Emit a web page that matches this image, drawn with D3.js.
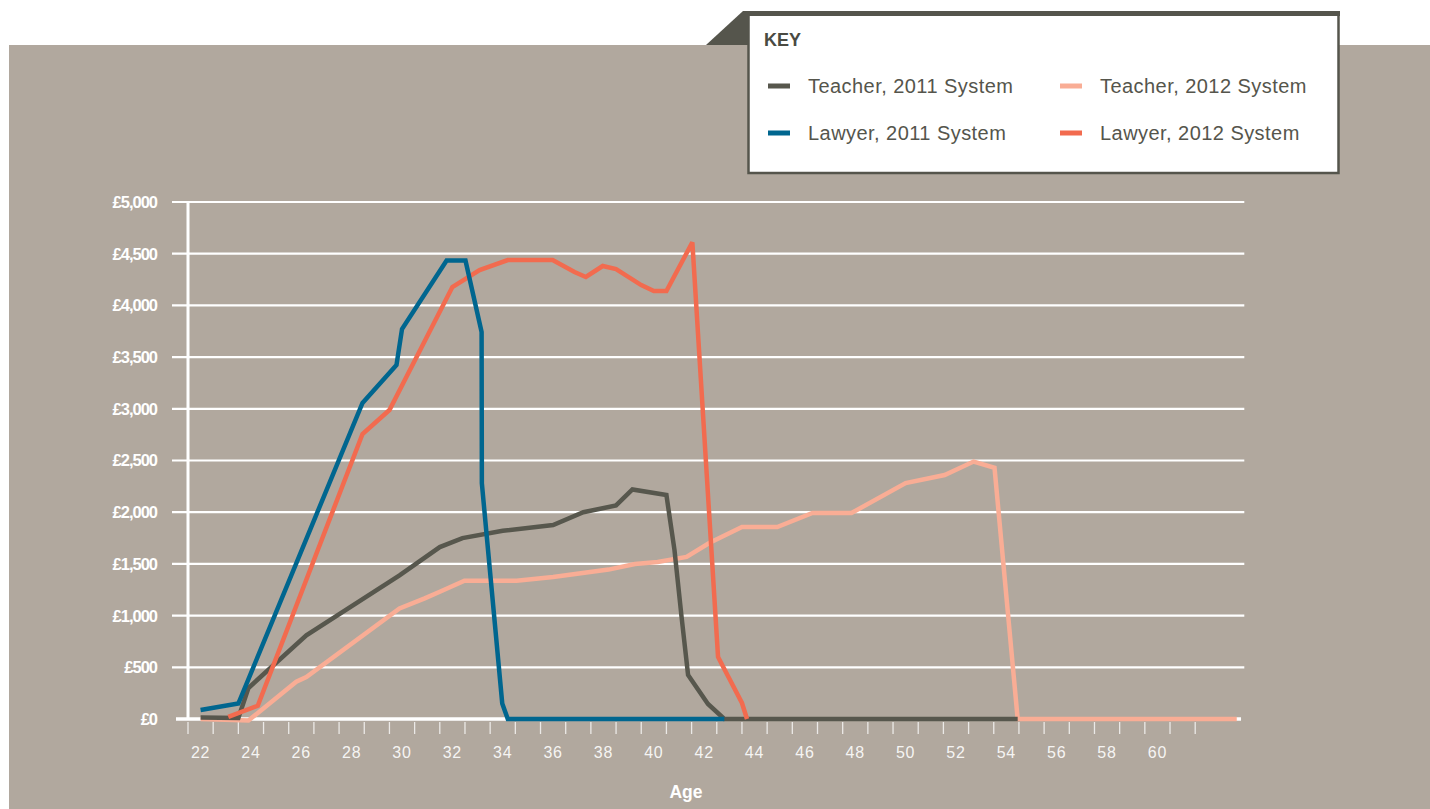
<!DOCTYPE html>
<html>
<head>
<meta charset="utf-8">
<script src="https://cdn.jsdelivr.net/npm/d3@7"></script>
<style>
  html, body { margin: 0; padding: 0; background: #ffffff; }
  svg { display: block; font-family: "Liberation Sans", Arial, Helvetica, sans-serif; }
</style>
</head>
<body>
<svg id="chart" width="1430" height="809"></svg>
<script>
// ---------------- DATA ----------------
const seriesNames = ["Teacher, 2011 System", "Teacher, 2012 System", "Lawyer, 2011 System", "Lawyer, 2012 System"];
const seriesColors = ["#57574d", "#f9ad95", "#00668f", "#f26b4f"];

// [age, monthly repayment £]
const teacher2011 = [[22,15],[23.5,10],[23.9,300],[26.2,810],[29.9,1390],[31.5,1663],[32.4,1750],[34.0,1820],[36.0,1876],[37.2,2000],[38.5,2065],[39.15,2220],[40.5,2166],[40.82,1634],[41.1,990],[41.36,425],[42.15,145],[42.8,0],[54.45,0]];
const teacher2012 = [[22,0],[23.9,-15],[25.8,360],[26.2,405],[29.9,1070],[30.9,1167],[31.5,1231],[32.48,1338],[34.55,1338],[36.0,1373],[38.2,1445],[39.25,1499],[40.15,1518],[41.3,1567],[42.2,1702],[43.5,1857],[44.9,1857],[46.3,1992],[47.85,1992],[50.0,2282],[51.55,2360],[52.7,2490],[53.53,2430],[54.45,0],[63.15,0]];
const lawyer2011 = [[22,87],[23.5,150],[28.43,3056],[29.78,3423],[30.0,3772],[31.77,4435],[32.52,4435],[33.16,3743],[33.17,2280],[33.98,150],[34.2,0],[42.8,0]];
const lawyer2012 = [[23.1,20],[24.27,128],[28.43,2756],[29.5,2988],[32.0,4178],[33.08,4342],[34.2,4439],[35.98,4439],[36.85,4323],[37.3,4275],[37.97,4381],[38.5,4352],[39.5,4197],[40.0,4139],[40.5,4139],[41.53,4610],[42.55,600],[43.5,155],[43.7,0]];

const yTicks = [0,500,1000,1500,2000,2500,3000,3500,4000,4500,5000];
const xTickLabels = [22,24,26,28,30,32,34,36,38,40,42,44,46,48,50,52,54,56,58,60];
const xBandAges = d3.range(22, 63); // one band per year of age, 22..62

const legendTitle = "KEY";
const axisTitle = "Age";

// ---------------- DRAW ----------------
const svg = d3.select("#chart");
const W = 1430, H = 809;

const bg = "#b1a89e";
const white = "#ffffff";

// background panel
svg.append("rect").attr("x", 9).attr("y", 45).attr("width", W - 9).attr("height", H - 45).attr("fill", bg);

// scales
const x = d3.scaleLinear().domain([21.5, 63.5]).range([188, 188 + 42 * 25.18]);
const y = d3.scaleLinear().domain([0, 5000]).range([719, 202]);

const g = svg.append("g");

// gridlines
g.append("g").selectAll("line").data(yTicks.filter(d => d > 0)).join("line")
  .attr("x1", x(21.5) - 16).attr("x2", x(63.45))
  .attr("y1", d => y(d)).attr("y2", d => y(d))
  .attr("stroke", white).attr("stroke-width", 2.2);

// y axis line
g.append("line").attr("x1", x(21.5)).attr("x2", x(21.5)).attr("y1", y(5000) - 1).attr("y2", y(0))
  .attr("stroke", white).attr("stroke-width", 3);

// x tick marks at band boundaries
g.append("g").selectAll("line").data(xBandAges).join("line")
  .attr("x1", d => x(d - 0.5)).attr("x2", d => x(d - 0.5))
  .attr("y1", y(0) + 3).attr("y2", y(0) + 15)
  .attr("stroke", white).attr("stroke-opacity", 0.75).attr("stroke-width", 1.3);

// y labels
g.append("g").selectAll("text").data(yTicks).join("text")
  .attr("x", 157).attr("y", d => y(d)).attr("dy", "0.36em")
  .attr("text-anchor", "end").attr("fill", white)
  .attr("font-weight", "bold").attr("font-size", 16.5).attr("letter-spacing", -1)
  .text(d => "£" + d3.format(",")(d));

// x labels
g.append("g").selectAll("text").data(xTickLabels).join("text")
  .attr("x", d => x(d)).attr("y", 752).attr("dy", "0.36em")
  .attr("text-anchor", "middle").attr("fill", white).attr("fill-opacity", 0.9)
  .attr("font-size", 16).attr("letter-spacing", 0.8)
  .text(d => d);

// axis title
g.append("text").attr("x", 686).attr("y", 792).attr("dy", "0.36em")
  .attr("text-anchor", "middle").attr("fill", white).attr("font-weight", "bold").attr("font-size", 17.5)
  .text(axisTitle);

// baseline (£0)
g.append("line").attr("x1", x(21.5) - 12).attr("x2", x(63.32)).attr("y1", y(0)).attr("y2", y(0))
  .attr("stroke", white).attr("stroke-width", 3.5);

// series lines (drawing order: pink, dark, coral, blue)
const line = d3.line().x(d => x(d[0])).y(d => y(d[1]));
const drawOrder = [
  { data: teacher2012, color: seriesColors[1] },
  { data: teacher2011, color: seriesColors[0] },
  { data: lawyer2012, color: seriesColors[3] },
  { data: lawyer2011, color: seriesColors[2] }
];
g.append("g").selectAll("path").data(drawOrder).join("path")
  .attr("d", d => line(d.data))
  .attr("fill", "none").attr("stroke", d => d.color)
  .attr("stroke-width", 4.5).attr("stroke-linejoin", "miter").attr("stroke-miterlimit", 3);

// ---------------- LEGEND ----------------
const dark = "#55554c";
const lg = svg.append("g");
lg.append("polygon").attr("points", "706,45 743,11 749,11 749,45").attr("fill", dark);
lg.append("rect").attr("x", 748.5).attr("y", 13).attr("width", 590).attr("height", 160)
  .attr("fill", white).attr("stroke", dark).attr("stroke-width", 2.5);
lg.append("rect").attr("x", 743).attr("y", 11).attr("width", 597).attr("height", 5).attr("fill", dark);

lg.append("text").attr("x", 764).attr("y", 40).attr("dy", "0.36em")
  .attr("fill", "#4a4a42").attr("font-weight", "bold").attr("font-size", 18)
  .text(legendTitle);

const legendItems = [
  { name: seriesNames[0], color: seriesColors[0], col: 0, row: 0 },
  { name: seriesNames[1], color: seriesColors[1], col: 1, row: 0 },
  { name: seriesNames[2], color: seriesColors[2], col: 0, row: 1 },
  { name: seriesNames[3], color: seriesColors[3], col: 1, row: 1 }
];
const li = lg.selectAll("g.item").data(legendItems).join("g").attr("class", "item")
  .attr("transform", d => `translate(${768 + d.col * 292},${86 + d.row * 47})`);
li.append("rect").attr("x", 0).attr("y", -2.5).attr("width", 22).attr("height", 5).attr("fill", d => d.color);
li.append("text").attr("x", 40).attr("y", 0).attr("dy", "0.36em")
  .attr("fill", "#55554c").attr("font-size", 20).attr("letter-spacing", 0.45)
  .text(d => d.name);
</script>
</body>
</html>
